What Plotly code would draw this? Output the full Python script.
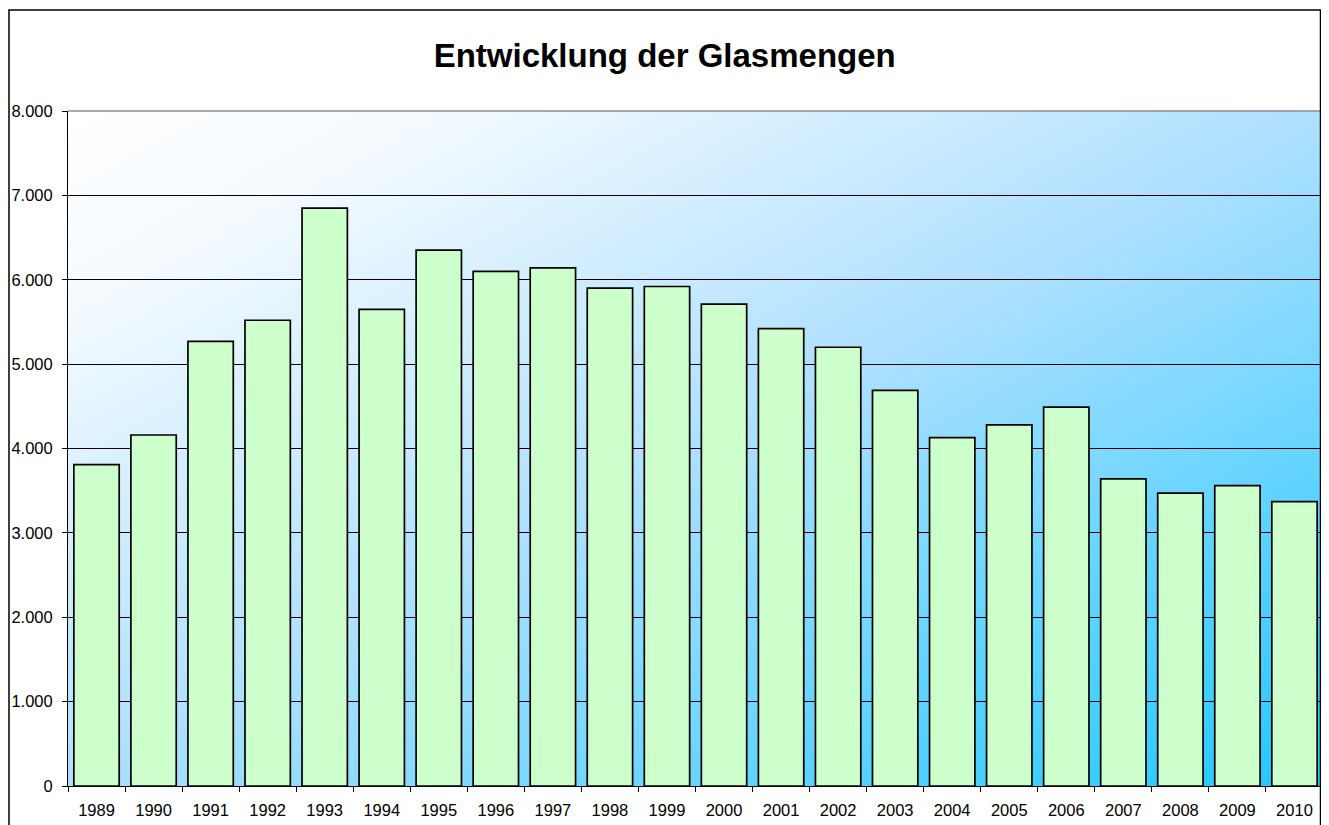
import base64
import plotly.graph_objs as go

years = ['1989', '1990', '1991', '1992', '1993', '1994', '1995', '1996', '1997', '1998', '1999',
         '2000', '2001', '2002', '2003', '2004', '2005', '2006', '2007', '2008', '2009', '2010']
mengen = [3810, 4160, 5270, 5520, 6850, 5650, 6350, 6100, 6140, 5900, 5920,
          5710, 5420, 5200, 4690, 4130, 4280, 4490, 3640, 3470, 3560, 3370]
y_ticks = [0, 1000, 2000, 3000, 4000, 5000, 6000, 7000, 8000]

# diagonal gradient for the plot area (white -> light blue -> cyan)
svg = ('<svg xmlns="http://www.w3.org/2000/svg" width="100" height="100" '
       'viewBox="0 0 100 100" preserveAspectRatio="none">'
       '<defs><linearGradient id="g" x1="0" y1="0" x2="1" y2="1">'
       '<stop offset="0" stop-color="#FFFFFF"/>'
       '<stop offset="0.15" stop-color="#F4FAFF"/>'
       '<stop offset="0.5" stop-color="#AEE0FF"/>'
       '<stop offset="1" stop-color="#1EC8FF"/>'
       '</linearGradient></defs>'
       '<rect x="0" y="0" width="100" height="100" fill="url(#g)"/></svg>')
bg_src = 'data:image/svg+xml;base64,' + base64.b64encode(svg.encode()).decode()

# page body keeps its 8px margin, so the figure is a little smaller than the window
W, H = 1321, 817
L, R, T, B = 60, 6, 103, 39
pw, ph = W - L - R, H - T - B

trace = go.Bar(
    x=years,
    y=mengen,
    marker=dict(color='#CCFFCC', line=dict(color='black', width=1.7)),
    hoverinfo='x+y',
)

layout = go.Layout(
    width=W,
    height=H,
    margin=dict(l=L, r=R, t=T, b=B),
    paper_bgcolor='white',
    plot_bgcolor='rgba(0,0,0,0)',
    separators=',.',
    font=dict(family='Liberation Sans, Arial, sans-serif', size=16.5, color='black'),
    title=dict(
        text='<b>Entwicklung der Glasmengen</b>',
        font=dict(size=33, color='black'),
        x=656.7 / W, xref='container', xanchor='center',
        y=1 - 47.3 / H, yref='container', yanchor='middle',
    ),
    bargap=0.205,
    showlegend=False,
    xaxis=dict(
        type='category',
        automargin=False,
        showline=True, linecolor='black', linewidth=1,
        ticks='outside', ticklen=5, tickcolor='black', tickson='boundaries',
        ticklabelstandoff=9,
        showgrid=False,
    ),
    yaxis=dict(
        range=[0, 8000],
        tickvals=y_ticks,
        tickformat=',d',
        automargin=False,
        showline=True, linecolor='black', linewidth=1,
        ticks='outside', ticklen=5, tickcolor='black',
        ticklabelstandoff=6,
        showgrid=True, gridcolor='black', gridwidth=1,
        zeroline=False,
    ),
    images=[dict(
        source=bg_src, xref='paper', yref='paper',
        x=0, y=1, sizex=1, sizey=1,
        sizing='stretch', xanchor='left', yanchor='top', layer='below',
    )],
    shapes=[
        # grey frame of the plot area (top / right)
        dict(type='line', xref='paper', yref='paper', x0=0, x1=1, y0=1, y1=1,
             line=dict(color='#8C8C8C', width=1.5)),
        dict(type='line', xref='paper', yref='paper', x0=1, x1=1, y0=0, y1=1,
             line=dict(color='#6F8FA0', width=1.5)),
        # outer chart border
        dict(type='rect', xref='paper', yref='paper',
             x0=(1 - L) / pw, x1=(1312.5 - L) / pw,
             y0=-(B + 10) / ph, y1=1 + (T - 2) / ph,
             line=dict(color='black', width=1.5)),
    ],
)

fig = go.Figure(data=[trace], layout=layout)
fig.write_html('out.html')
